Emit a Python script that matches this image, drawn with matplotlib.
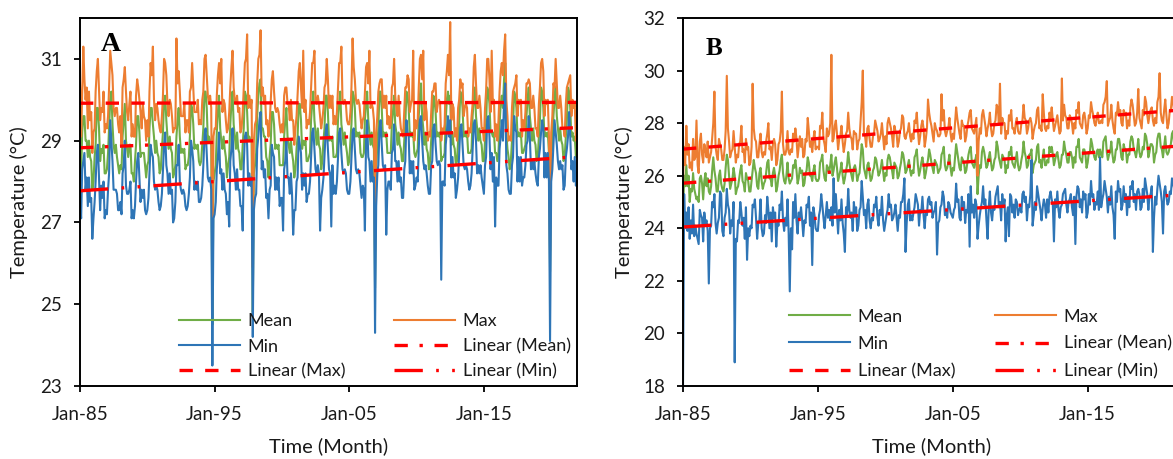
import numpy as np
import pandas as pd
import matplotlib
matplotlib.use('Agg')
import matplotlib.pyplot as plt
import matplotlib.dates as mdates

plt.rcParams['font.family'] = ['Lato', 'DejaVu Sans']

# monthly series, Jan 1985 - Dec 2021, one row per year
months = pd.date_range('1985-01-01', periods=444, freq='MS')

mean_a = np.array("""
28.4 28.2 29.2 29.6 29.6 29.0 29.0 28.6 29.0 28.6 28.5 27.8
28.0 28.6 28.9 29.8 29.8 29.3 28.5 28.8 28.7 28.9 28.2 28.2
28.3 28.7 29.3 30.0 30.2 29.4 28.9 28.7 28.9 28.6 28.4 28.2
28.4 28.3 29.1 29.5 29.9 29.0 28.8 28.6 28.9 28.9 28.2 28.2
28.0 28.5 28.9 29.6 29.6 29.2 28.6 28.7 28.7 28.7 28.4 28.1
28.4 28.5 29.3 29.8 29.8 29.4 29.1 28.7 29.0 28.7 28.6 28.2
28.3 28.8 29.2 30.0 30.1 29.5 29.1 28.8 29.1 28.8 28.7 28.1
28.2 28.4 29.1 29.5 29.8 29.1 28.7 28.8 28.7 28.8 28.3 28.4
28.4 28.6 29.1 29.9 29.8 29.4 28.8 28.9 28.8 28.9 28.5 28.4
28.5 28.9 29.3 30.2 30.2 29.8 29.0 29.1 29.0 28.9 24.5 28.0
28.2 28.4 29.2 29.7 30.1 29.3 29.0 28.8 29.1 28.8 28.6 28.1
28.4 28.6 29.4 29.9 30.2 29.4 29.1 28.8 29.2 28.8 28.7 28.3
28.3 28.9 29.3 30.2 30.1 29.7 29.0 29.1 29.0 29.0 24.8 28.2
28.4 28.7 29.6 30.1 30.4 30.5 29.3 29.3 29.1 29.1 28.6 28.5
28.1 28.6 28.9 29.7 29.7 29.4 28.8 28.9 28.8 28.9 28.4 28.4
28.4 28.4 29.1 29.5 29.8 29.1 28.9 28.7 29.0 28.7 28.5 28.1
28.3 28.8 29.1 29.9 29.9 29.5 28.8 29.0 28.9 29.0 28.5 28.5
28.6 28.7 29.5 29.9 30.2 29.5 29.2 28.9 29.3 28.9 28.8 28.3
28.5 29.0 29.3 30.1 30.1 29.7 29.0 29.1 29.0 29.1 28.6 28.6
28.6 28.7 29.5 29.9 30.2 29.4 29.2 28.9 29.2 28.9 28.7 28.4
28.5 29.0 29.4 30.2 30.1 29.8 29.1 29.2 29.1 29.2 28.7 28.6
28.6 28.7 29.5 29.9 30.2 29.5 29.2 28.9 29.2 28.9 28.8 25.4
28.3 28.9 29.3 30.2 30.2 29.8 29.1 29.2 29.1 29.2 28.7 28.7
28.7 28.7 29.4 29.7 30.1 29.4 29.2 28.9 29.2 28.9 28.8 28.5
28.5 29.0 29.4 30.2 30.1 29.8 29.1 29.2 29.1 29.2 28.7 28.6
28.7 28.8 29.6 30.1 30.4 29.6 29.3 28.9 29.2 28.8 28.7 28.3
28.5 29.0 29.3 30.1 30.0 29.7 29.1 29.2 29.1 29.2 28.5 28.6
28.6 28.7 29.5 30.0 30.2 29.9 30.1 28.9 29.2 28.9 28.8 28.4
28.5 29.0 29.4 30.2 30.1 29.8 29.1 29.2 29.1 29.2 28.7 28.7
28.7 28.8 29.6 30.0 30.3 29.6 29.3 29.0 29.3 29.0 28.9 28.5
28.5 29.0 29.4 30.3 30.2 29.9 29.2 29.2 29.1 29.2 28.7 28.7
28.5 28.7 29.4 29.9 30.1 29.8 30.5 30.9 29.2 28.8 28.6 28.3
28.5 29.0 29.4 30.2 30.1 29.8 29.1 29.2 29.1 29.2 28.7 28.7
28.8 28.9 29.6 30.0 30.3 29.6 29.3 29.0 29.3 29.0 28.9 28.5
28.6 29.1 29.5 30.3 30.2 29.8 29.1 29.2 29.1 29.2 28.7 25.8
28.7 28.8 29.6 30.0 30.3 29.6 29.3 29.0 29.3 29.0 28.9 28.5
28.6 29.1 29.5 30.3 30.2 29.8 29.1 29.2 29.0 29.1 28.6 28.7
""".split(), dtype=float)

max_a = np.array("""
30.4 29.1 30.1 31.3 30.5 30.0 30.3 29.3 30.2 29.5 29.7 28.7
29.2 29.3 30.2 30.7 31.0 30.2 29.5 29.8 29.7 30.2 29.2 29.4
29.3 29.6 30.3 31.2 30.9 30.6 29.8 29.6 29.8 29.8 29.4 29.2
29.6 28.9 30.3 30.5 30.8 30.2 29.7 29.5 29.9 30.2 29.1 29.4
29.1 29.1 30.1 30.5 30.3 30.0 29.7 29.3 29.9 29.6 29.5 29.0
29.5 29.1 30.2 30.9 30.6 31.3 30.0 29.5 29.9 29.8 29.5 29.3
29.2 29.6 30.1 31.0 30.9 30.6 29.9 29.6 30.0 29.9 29.6 29.2
29.3 29.3 31.5 30.4 30.7 30.2 29.6 29.6 29.6 29.9 29.2 29.5
29.5 29.2 30.2 30.3 30.9 30.3 29.7 29.7 29.7 30.0 29.4 29.5
29.4 30.0 30.2 31.0 31.1 30.6 30.1 29.9 30.1 29.8 26.2 29.1
29.3 29.3 30.1 30.6 30.9 30.4 31.0 29.7 30.0 29.9 29.5 29.2
29.3 29.7 30.3 30.8 31.2 30.3 30.0 29.9 30.1 29.7 29.8 29.2
29.3 29.7 30.3 30.9 31.0 31.6 29.8 30.1 29.8 30.0 25.9 29.0
29.4 29.5 30.4 31.0 31.1 31.7 30.1 30.3 29.9 30.1 29.4 29.5
29.1 29.4 29.9 30.5 30.7 30.2 29.8 29.7 29.8 29.7 29.4 29.2
29.4 29.2 30.1 30.3 30.3 29.9 29.9 29.5 30.0 29.5 29.5 28.9
29.3 29.6 30.1 30.7 30.9 30.3 29.8 31.2 29.7 30.0 29.3 29.5
29.4 29.7 30.3 30.9 30.9 31.2 30.0 29.9 30.1 29.9 29.6 29.3
29.5 29.8 30.3 30.4 31.0 30.5 29.8 30.1 29.8 30.1 29.4 29.6
29.4 29.7 30.3 30.9 30.9 31.3 30.0 29.9 30.0 29.9 29.5 29.4
29.4 29.7 30.3 31.5 30.8 30.5 30.0 29.9 30.0 29.9 29.6 29.3
29.5 29.6 30.2 30.8 30.9 30.4 31.2 29.8 29.9 29.8 29.5 26.3
29.2 29.6 30.2 30.4 30.5 30.5 29.8 30.1 29.8 30.1 29.4 29.6
29.3 29.4 30.3 30.4 31.0 30.1 29.8 29.6 30.1 29.6 29.3 29.2
29.1 29.7 30.3 30.3 30.6 30.5 29.7 29.9 30.0 31.2 29.0 29.5
29.3 29.5 30.3 31.0 31.1 30.5 31.2 29.5 29.9 29.7 29.0 29.2
29.1 29.7 30.2 30.2 30.4 30.4 29.7 29.9 30.0 29.9 29.0 29.3
29.2 29.4 30.4 30.7 31.1 30.6 31.9 29.5 29.9 29.8 29.1 29.3
29.0 29.8 30.0 30.5 30.3 30.4 29.6 29.8 29.9 29.8 29.1 29.3
29.2 29.6 29.9 30.8 31.1 30.4 29.8 29.8 30.1 29.8 29.3 29.3
29.0 29.8 30.2 31.0 31.0 30.5 29.7 31.2 29.9 30.0 29.1 29.4
29.0 29.5 30.2 30.7 30.9 30.6 31.2 31.6 30.0 29.6 29.0 29.1
29.0 29.8 30.2 30.3 30.4 30.6 29.6 30.0 29.9 30.0 29.1 29.5
29.3 29.7 30.4 30.4 30.5 30.4 29.8 29.8 30.1 29.8 29.3 29.3
29.1 29.9 30.3 30.9 31.0 30.7 29.6 30.0 29.9 30.0 29.1 26.3
29.2 29.6 30.4 30.3 31.0 30.4 29.8 29.8 30.1 29.8 29.3 29.3
29.1 29.9 30.3 30.4 30.5 30.6 29.6 30.0 29.8 29.9 29.0 29.5
""".split(), dtype=float)

min_a = np.array("""
27.5 27.1 28.3 28.5 28.7 27.8 28.1 27.4 28.1 27.5 27.6 26.6
27.1 27.5 28.0 28.7 28.9 28.1 27.3 27.9 27.6 28.0 27.1 27.3
27.2 27.8 28.2 29.5 29.0 28.5 27.8 27.8 27.8 27.7 27.3 27.3
27.5 27.2 28.2 28.4 29.0 27.9 27.7 27.7 27.8 28.0 27.1 27.3
27.1 27.4 28.0 28.5 28.7 28.1 27.5 27.8 27.6 27.8 27.3 27.2
27.3 27.6 28.2 28.9 28.7 28.6 28.0 27.8 27.9 27.8 27.5 27.3
27.4 27.7 28.3 28.9 29.2 28.4 28.2 27.7 28.2 27.7 27.8 27.0
27.1 27.5 28.4 28.4 28.9 28.0 27.8 27.7 27.8 27.7 27.4 27.3
27.4 27.7 28.1 29.0 28.8 28.5 27.8 28.0 27.8 28.0 27.5 27.5
27.6 27.9 28.4 29.1 29.3 28.7 28.1 28.0 28.1 27.8 23.5 27.1
27.2 27.5 28.3 28.6 29.2 28.2 28.3 27.8 28.2 27.8 27.7 27.2
27.5 26.9 28.5 28.8 29.3 28.4 28.2 27.8 28.3 27.8 27.8 27.4
27.4 26.8 28.4 29.1 29.2 28.9 27.9 28.2 27.9 28.1 24.2 27.3
27.6 27.7 28.8 29.1 29.5 29.7 28.3 28.5 28.1 28.3 27.6 27.7
27.1 27.8 27.9 28.9 28.7 28.6 27.8 28.1 27.8 28.1 27.4 27.6
27.6 26.8 28.3 28.5 29.0 28.1 28.1 27.7 28.2 27.7 26.7 27.3
27.3 28.0 28.1 29.1 28.9 28.7 27.8 28.2 27.9 28.2 27.5 27.7
27.7 28.0 28.6 29.2 29.3 28.8 28.3 28.2 28.4 28.2 26.8 27.6
27.8 28.1 28.6 29.2 29.4 28.8 28.3 28.2 26.9 28.4 27.7 27.9
27.7 28.0 28.6 29.2 29.3 28.7 28.3 28.2 28.3 28.2 27.8 27.7
27.7 28.0 28.6 29.2 29.3 28.8 28.3 28.2 28.3 28.2 27.9 27.6
27.9 27.8 26.8 29.0 29.5 28.6 28.5 28.0 28.5 28.0 28.1 24.3
27.4 28.2 28.4 29.3 29.5 28.9 28.4 28.3 28.4 26.7 27.8 28.0
28.0 27.8 28.7 28.8 29.4 28.5 28.5 28.0 28.5 28.0 28.1 27.6
27.6 28.3 28.5 29.5 29.2 29.1 28.2 28.5 28.2 28.5 27.8 27.9
28.1 28.0 28.8 29.5 29.6 29.0 28.5 28.3 28.4 28.2 27.9 27.7
27.7 28.4 28.5 29.3 29.4 28.9 28.5 28.4 28.5 28.4 25.6 28.0
28.0 27.9 28.9 29.2 29.6 29.1 29.5 28.1 28.6 28.1 28.2 27.6
27.8 28.1 28.7 29.3 29.4 28.9 28.4 28.3 28.4 28.3 28.0 27.8
27.9 28.2 28.8 29.4 29.5 29.0 28.2 28.4 28.2 28.4 28.1 27.9
27.7 28.4 28.6 29.5 29.6 29.1 28.3 28.7 28.0 28.6 26.9 28.1
27.9 27.9 28.8 29.1 29.5 29.0 30.0 30.4 28.4 28.2 27.8 27.7
27.7 28.4 28.6 29.6 29.3 29.2 28.0 28.6 28.0 28.6 27.9 28.1
28.1 28.4 28.9 29.0 29.6 29.1 28.3 28.5 28.3 28.5 28.2 28.0
27.9 28.6 28.8 29.2 29.5 29.3 28.1 28.7 28.1 28.7 28.0 24.1
28.0 28.3 28.9 29.5 29.2 28.9 28.5 28.3 28.5 28.3 28.4 27.8
27.9 28.6 28.8 29.1 29.7 29.1 28.3 28.5 28.0 28.6 27.9 28.2
""".split(), dtype=float)

mean_b = np.array("""
24.5 26.0 25.6 26.4 25.6 26.0 25.0 25.5 25.4 26.1 25.5 25.3
25.1 25.2 25.0 25.9 26.0 25.7 25.1 25.8 26.1 25.6 25.9 25.4
25.3 25.6 26.2 26.7 26.2 25.9 25.4 25.4 26.0 26.2 25.7 25.5
25.4 25.7 26.3 26.8 26.6 26.0 25.5 25.7 25.9 26.3 26.0 25.3
25.5 25.6 25.9 26.2 26.4 25.8 25.7 25.4 26.1 25.9 25.8 25.4
25.4 25.8 26.2 26.6 26.3 26.1 25.6 25.5 26.1 26.3 25.8 25.5
25.7 25.8 26.1 26.5 26.6 25.9 25.9 25.6 26.1 26.3 26.0 25.4
25.6 26.0 26.2 26.6 26.8 26.1 25.8 25.7 26.0 26.5 25.9 25.7
25.8 25.9 26.4 26.3 26.6 26.2 25.7 25.9 26.3 26.1 26.2 25.6
25.7 26.1 26.2 26.7 26.5 26.0 26.0 25.8 26.2 26.4 25.9 25.8
25.8 25.9 26.5 26.6 26.8 26.2 25.9 25.8 26.4 26.3 26.1 26.4
26.8 26.0 26.2 26.5 26.7 26.3 25.8 26.0 26.2 26.5 26.0 25.7
25.9 26.2 26.4 26.9 26.5 26.2 26.0 25.8 26.3 26.4 26.2 25.8
26.0 26.1 26.6 27.2 27.0 26.3 26.1 25.9 26.4 26.5 26.1 25.8
25.9 26.2 26.3 26.7 26.6 26.3 26.0 26.1 26.3 26.6 26.2 25.8
26.1 26.0 26.6 26.8 26.7 26.4 26.2 25.9 26.5 26.4 26.3 25.9
26.0 26.3 26.5 26.9 26.8 26.5 26.1 26.2 26.4 26.6 26.2 26.0
26.2 26.1 26.7 26.8 27.0 26.4 26.0 26.2 26.5 26.7 26.4 25.9
26.1 26.4 26.6 27.0 26.8 26.5 26.3 26.1 26.6 26.5 26.4 26.1
26.2 26.3 26.8 26.9 27.1 26.4 26.2 26.3 26.5 26.8 26.3 26.0
26.3 26.2 26.7 27.2 26.9 26.6 26.3 26.2 26.7 26.6 26.5 26.1
26.2 26.5 26.8 27.0 27.1 26.5 26.4 26.3 26.6 26.8 25.3 26.0
26.4 26.3 26.9 27.1 26.9 26.6 26.3 26.4 26.7 26.9 26.5 26.2
26.3 26.6 26.7 27.3 27.1 26.7 26.5 26.3 26.8 26.7 26.6 26.1
26.4 26.3 26.9 26.8 27.1 26.5 26.4 26.3 26.6 26.9 26.4 26.2
26.3 26.6 26.8 27.3 26.9 26.7 26.3 26.4 26.8 26.8 27.0 26.1
26.4 26.5 26.6 27.1 27.2 26.5 26.6 26.3 26.7 27.0 26.4 26.4
26.6 26.5 27.1 26.9 27.1 26.8 26.4 26.6 26.8 26.9 26.6 26.3
26.4 26.8 26.8 27.3 27.0 26.8 26.5 26.5 26.9 26.9 26.7 26.3
26.7 26.5 27.1 27.1 27.4 26.7 26.6 26.5 27.0 27.0 26.8 26.3
26.5 26.9 26.9 27.4 27.2 26.9 26.7 26.6 26.9 27.0 26.7 27.0
26.8 26.7 27.3 27.4 27.5 26.9 26.6 26.8 26.9 27.3 26.8 26.5
26.6 27.0 27.0 27.4 27.4 27.1 26.7 26.6 27.2 27.0 27.0 26.5
26.8 26.8 27.3 27.5 27.4 27.0 26.9 26.7 27.0 27.4 26.9 26.7
26.8 27.1 27.0 27.6 27.5 27.2 26.7 26.9 27.2 27.2 27.1 26.5
26.8 26.9 27.4 27.6 27.6 27.1 27.0 26.7 27.1 27.5 26.9 26.8
26.9 27.1 27.2 27.6 27.7 27.1 26.9 26.9 27.2 27.3 27.1 26.7
""".split(), dtype=float)

max_b = np.array("""
25.8 27.1 26.4 27.9 26.8 27.2 26.3 26.5 26.2 27.4 26.6 26.7
28.1 26.4 26.1 27.3 27.6 26.8 26.5 27.2 27.0 26.7 27.3 26.5
26.7 26.9 27.4 28.0 29.2 27.1 26.8 26.6 27.4 27.2 27.0 26.6
26.6 27.0 27.7 29.8 27.8 27.3 26.7 26.9 27.0 27.7 27.1 26.5
26.8 26.7 27.2 27.3 27.9 26.9 27.0 26.5 27.4 27.0 27.1 26.4
26.5 27.1 29.5 27.8 27.4 27.3 26.7 26.7 27.2 27.6 26.9 26.7
26.9 26.8 27.3 27.6 28.0 27.0 27.1 26.6 27.2 27.4 27.2 26.4
26.6 27.2 27.3 27.7 29.2 27.2 26.8 26.8 27.0 27.7 26.9 26.8
27.0 26.9 27.6 27.3 27.8 27.4 26.7 27.1 27.5 27.1 27.4 26.7
26.8 27.4 27.3 28.2 27.7 27.1 27.3 26.9 27.4 27.7 27.0 27.1
27.1 27.0 27.9 27.8 28.4 27.4 27.2 26.9 27.8 27.5 27.6 28.0
30.6 27.3 27.4 27.9 28.1 27.6 27.0 27.4 27.5 27.9 27.3 26.9
27.2 27.6 27.7 28.4 27.8 27.5 27.4 27.0 27.7 27.6 27.6 27.0
27.3 27.4 28.1 28.8 30.0 27.6 27.5 27.1 27.8 27.9 27.4 27.1
27.1 27.5 27.6 28.1 27.9 27.7 27.3 27.4 27.6 28.0 27.5 27.0
27.5 27.2 28.0 28.2 28.0 27.8 27.5 27.1 27.9 27.7 27.6 27.1
27.3 27.7 27.8 28.3 28.2 27.5 27.4 27.6 27.7 28.0 27.5 27.3
27.6 27.4 28.1 28.0 28.4 27.7 27.2 27.5 27.9 28.1 27.8 27.1
27.4 27.8 28.9 28.4 28.1 27.9 27.6 27.3 28.0 27.8 27.7 27.5
27.5 27.6 29.1 28.1 28.5 27.7 27.5 27.7 27.8 28.2 27.6 27.3
27.6 27.4 28.0 28.6 28.2 27.9 27.6 27.4 28.1 27.9 27.9 27.3
27.5 27.9 28.1 28.4 28.5 27.8 27.7 27.6 27.9 28.2 26.0 27.3
27.8 27.6 28.3 28.5 28.2 27.9 27.5 27.8 28.0 28.4 27.8 27.5
27.6 28.0 28.1 28.7 28.6 28.0 29.5 27.6 28.2 28.0 28.0 27.4
27.7 27.6 28.3 28.1 28.5 27.8 27.8 27.6 28.0 28.2 27.7 27.6
27.6 28.0 28.1 28.7 28.2 28.1 27.6 27.8 28.1 28.2 28.0 27.4
27.7 27.9 28.0 28.5 28.6 27.8 27.9 27.7 29.1 28.4 27.8 27.7
27.9 27.8 28.4 28.2 28.6 28.1 27.7 27.9 28.1 28.3 27.9 27.6
27.7 29.7 28.1 28.7 28.3 28.2 27.8 27.8 28.3 28.2 28.0 27.6
28.0 27.8 28.5 28.4 28.8 28.0 27.9 27.8 28.3 28.4 28.1 27.6
27.8 28.3 28.2 28.8 28.5 28.3 28.0 27.9 28.2 28.4 28.0 28.0
28.1 28.0 28.7 28.8 29.0 29.6 27.9 28.1 28.2 28.7 28.1 27.8
27.6 28.4 28.3 28.8 28.4 28.5 28.0 27.9 28.5 28.3 28.4 27.8
28.1 27.9 28.6 28.9 28.7 28.3 27.9 28.0 28.4 29.3 28.2 28.0
27.8 28.5 28.3 29.0 28.8 28.3 28.0 28.3 28.5 28.6 28.1 27.9
28.2 28.0 28.8 29.0 29.9 28.4 28.1 28.0 28.5 28.9 28.3 27.8
28.0 28.5 28.5 29.0 28.8 28.4 28.2 28.0 28.5 28.6 28.4 27.7
""".split(), dtype=float)

min_b = np.array("""
18.0 25.3 24.0 24.6 23.9 24.8 23.6 24.3 23.8 24.9 23.7 24.1
23.8 23.6 23.4 24.7 24.5 24.4 23.5 24.6 24.2 24.3 23.9 21.9
24.0 24.1 25.0 24.8 25.3 24.2 23.8 24.2 24.4 25.4 25.3 23.9
23.7 24.4 24.6 25.5 24.9 24.7 23.8 24.3 24.1 25.0 18.9 23.6
23.5 24.3 24.2 25.0 24.6 24.1 24.4 23.6 24.8 22.8 24.0 23.7
24.1 24.0 24.9 24.8 25.1 24.4 23.6 24.2 24.3 25.1 24.0 23.7
23.8 24.5 24.2 25.2 24.7 24.0 24.6 23.5 24.8 24.4 24.6 23.3
24.2 24.1 24.9 24.7 25.4 24.3 23.9 24.4 24.1 25.1 23.8 21.6
24.0 23.2 25.0 24.4 25.3 24.3 23.8 24.6 24.4 24.8 24.3 23.7
24.3 24.2 24.9 24.8 25.2 24.1 24.6 22.6 24.8 24.5 24.0 23.9
23.9 24.5 24.7 25.3 24.9 24.4 24.0 24.5 25.0 24.4 24.7 24.3
24.8 24.1 25.9 24.6 25.3 24.5 23.8 24.7 24.3 25.1 24.2 23.8
23.1 24.8 24.5 25.5 24.7 24.4 24.6 23.9 25.0 24.5 24.8 23.9
24.1 24.7 24.8 25.8 25.2 24.5 24.7 24.0 24.9 25.1 24.3 24.0
24.4 24.3 24.9 24.8 25.2 24.4 24.1 24.7 24.5 25.2 24.3 23.9
24.2 24.5 24.7 25.3 24.8 24.9 24.3 24.4 24.6 24.9 24.4 23.9
24.5 24.4 25.0 25.0 25.3 25.9 23.1 24.2 24.9 25.1 24.3 24.5
24.3 24.6 24.8 25.3 25.1 24.9 24.1 24.7 24.6 25.2 24.5 24.0
24.6 24.5 25.1 25.2 24.9 25.0 24.4 24.6 24.7 25.0 23.0 24.2
24.3 24.8 24.9 25.4 25.2 24.5 24.7 24.4 25.0 24.9 24.6 24.5
24.4 24.7 24.8 25.7 25.0 25.1 24.4 24.3 25.2 24.7 25.0 24.2
24.7 24.6 25.3 23.3 25.6 24.6 24.9 24.4 25.1 24.9 23.6 24.1
24.5 24.8 25.0 25.6 24.9 25.1 24.3 23.6 24.8 25.4 24.6 24.3
24.8 24.7 25.2 25.4 25.6 24.8 25.0 24.3 25.3 24.8 25.1 23.5
24.5 24.8 23.7 25.3 25.2 24.6 24.9 24.4 25.1 25.0 24.5 24.7
24.8 24.6 25.3 25.4 25.0 25.2 24.3 24.9 24.8 25.3 26.6 24.1
24.5 25.0 24.7 25.6 25.3 25.0 24.7 24.3 24.8 25.1 24.9 24.4
25.1 24.6 25.2 25.4 25.1 24.9 23.5 25.1 24.8 25.4 24.7 24.4
24.8 24.9 25.3 25.4 25.5 24.9 24.6 25.0 25.1 25.3 24.8 24.5
25.2 23.4 25.2 25.6 25.5 24.8 25.1 24.6 25.4 25.1 25.3 24.4
24.6 25.3 24.9 25.8 25.2 25.3 24.7 25.0 24.9 25.4 24.7 26.7
24.8 25.1 25.3 25.8 25.5 25.2 24.6 25.2 24.9 25.6 24.8 24.5
23.6 25.4 25.0 25.8 25.4 25.5 24.7 24.9 25.6 25.0 25.3 24.5
25.2 24.8 25.6 25.5 25.8 25.0 25.3 24.7 25.4 25.5 25.3 24.7
24.8 25.5 25.0 25.9 25.6 25.3 24.7 25.2 25.3 25.6 23.1 24.4
25.2 24.9 25.5 26.0 25.7 25.4 25.0 23.8 25.4 25.6 25.2 24.9
25.0 25.4 25.3 25.9 25.7 25.5 24.9 25.2 25.3 25.6 25.2 24.8
""".split(), dtype=float)

panels = [
    dict(label='A', mean=mean_a, max=max_a, min=min_a, ylim=(23, 32), yticks=[23, 25, 27, 29, 31]),
    dict(label='B', mean=mean_b, max=max_b, min=min_b, ylim=(18, 32), yticks=list(range(18, 33, 2))),
]

c_mean, c_max, c_min, red = '#70AD47', '#ED7D31', '#2E75B6', '#FF0000'
ls_max = (0, (4, 3.7))
ls_mean = (0, (4, 3.5, 1, 3.5))
ls_min = (0, (8.5, 4, 0.8, 4, 0.8, 4))
txt = '#1a1a1a'

W, H = 1173, 459
fig = plt.figure(figsize=(W / 100, H / 100), dpi=100)


def px_axes(x0, y0, x1, y1):
    return fig.add_axes([x0 / W, 1 - y1 / H, (x1 - x0) / W, (y1 - y0) / H])


def trend(y):
    t = np.arange(len(y))
    b, a = np.polyfit(t, y, 1)
    return a + b * t


boxes = [(80, 18, 577, 386), (683, 18, 1181, 386)]
# legend: (column 1 top-left, column 2 top-left, row spacing)
leg_pos = [((179, 313.5), (394, 313.5), 0.5), ((789, 308.5), (995, 308.5), 0.62)]
letter_pos = [(100.5, 51, 20), (706, 55, 18)]
ylab_x = [-0.105, -0.100]

for p, box, (c1, c2, lsp), (lx, ly, lfs), yx in zip(panels, boxes, leg_pos, letter_pos, ylab_x):
    ax = px_axes(*box)
    h_mean, = ax.plot(months, p['mean'], color=c_mean, lw=1.5, label='Mean')
    h_max, = ax.plot(months, p['max'], color=c_max, lw=1.5, label='Max')
    h_min, = ax.plot(months, p['min'], color=c_min, lw=1.5, label='Min')
    t_mean, = ax.plot(months, trend(p['mean']), color=red, lw=2.4, ls=ls_mean, label='Linear (Mean)')
    t_max, = ax.plot(months, trend(p['max']), color=red, lw=2.4, ls=ls_max, label='Linear (Max)')
    t_min, = ax.plot(months, trend(p['min']), color=red, lw=2.4, ls=ls_min, label='Linear (Min)')

    ax.set_ylim(*p['ylim'])
    ax.set_yticks(p['yticks'])
    ax.set_xlim(months[0], months[-1])
    ax.set_xticks(pd.to_datetime(['1985-01-01', '1995-01-01', '2005-01-01', '2015-01-01']))
    ax.xaxis.set_major_formatter(mdates.DateFormatter('%b-%y'))
    ax.tick_params(direction='out', length=4.5, width=1.3, labelsize=13.5, colors='black', labelcolor=txt)
    ax.tick_params(axis='x', pad=10)
    ax.tick_params(axis='y', pad=8.5)
    for s in ax.spines.values():
        s.set_linewidth(1.4)

    ax.set_ylabel('Temperature (°C)', fontsize=14.5, color=txt)
    ax.yaxis.set_label_coords(yx, 0.5)
    ax.set_xlabel('Time (Month)', fontsize=14.5, color=txt)
    ax.xaxis.set_label_coords(0.5, -0.138)

    fig.text(lx / W, 1 - ly / H, p['label'], fontsize=lfs, fontweight='bold',
             family='Liberation Serif', ha='left', va='baseline')

    cols = [[h_mean, h_min, t_max], [h_max, t_mean, t_min]]
    for handles, (cx, cy) in zip(cols, (c1, c2)):
        leg = fig.legend(handles=handles, loc='upper left', bbox_to_anchor=(cx / W, 1 - cy / H),
                         frameon=False, fontsize=13, borderpad=0, borderaxespad=0,
                         handlelength=3.4, handletextpad=0.4, labelspacing=lsp)
        for t in leg.get_texts():
            t.set_color(txt)

fig.savefig('out.png', dpi=100)
